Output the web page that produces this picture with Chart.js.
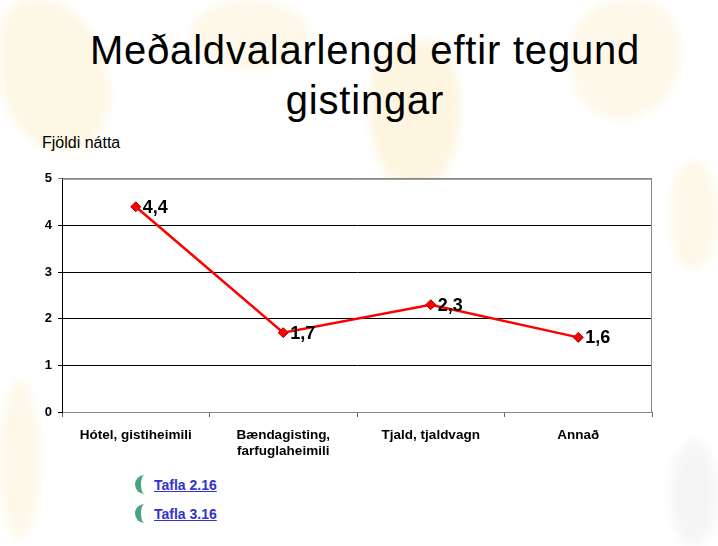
<!DOCTYPE html>
<html>
<head>
<meta charset="utf-8">
<script src="https://cdn.jsdelivr.net/npm/chart.js@4"></script>
<style>
    html, body { margin: 0; padding: 0; }
    body { width: 718px; height: 546px; position: relative; overflow: hidden; background: #fff; font-family: Arial, "Liberation Sans", sans-serif; }
    .blob { position: absolute; filter: blur(4px); }
    h1 { position: absolute; left: 0; top: 25px; width: 730px; margin: 0; text-align: center; font-weight: normal; font-size: 40px; letter-spacing: 0.8px; line-height: 50px; color: #000; }
    #yTitle { position: absolute; left: 42px; top: 134px; font-size: 16px; color: #000; }
    #chartBox { position: absolute; left: 20px; top: 165px; width: 638px; height: 300px; }
    .link { position: absolute; left: 135px; font-size: 14px; font-weight: bold; }
    .link a { color: #3333cc; text-decoration: underline; margin-left: 6px; }
    .moon { display: inline-block; width: 13px; height: 19px; border-radius: 13px 0 0 13px; border-left: 6px solid #4aa57e; box-sizing: border-box; vertical-align: -4px; }
</style>
</head>
<body>
<div class="blob" style="left:0;top:0;width:110px;height:150px;background:#fcf2d4;border-radius:30% 70% 40% 60%;opacity:.6"></div>
<div class="blob" style="left:190px;top:0;width:120px;height:70px;background:#fcf2d4;border-radius:50%;opacity:.5"></div>
<div class="blob" style="left:370px;top:40px;width:90px;height:150px;background:#fcefcc;border-radius:40% 40% 50% 50%;opacity:.6"></div>
<div class="blob" style="left:570px;top:0;width:110px;height:120px;background:#fcf2d4;border-radius:50% 40% 60% 50%;opacity:.5"></div>
<div class="blob" style="left:0;top:380px;width:40px;height:160px;background:#fcf2d4;border-radius:50%;opacity:.5"></div>
<div class="blob" style="left:670px;top:160px;width:48px;height:110px;background:#fcf2d4;border-radius:50%;opacity:.5"></div>
<div class="blob" style="left:670px;top:440px;width:48px;height:106px;background:#f0f0f0;border-radius:50%;opacity:.6"></div>

<h1>Meðaldvalarlengd eftir tegund<br>gistingar</h1>
<div id="yTitle">Fjöldi nátta</div>
<div id="chartBox"><canvas id="chart"></canvas></div>
<div class="link" style="top:475px"><span class="moon"></span><a href="#">Tafla 2.16</a></div>
<div class="link" style="top:504px"><span class="moon"></span><a href="#">Tafla 3.16</a></div>

<script>
const categories = ['Hótel, gistiheimili', ['Bændagisting,', 'farfuglaheimili'], 'Tjald, tjaldvagn', 'Annað'];
const nights = [4.4, 1.7, 2.3, 1.6];
const yTicks = [0, 1, 2, 3, 4, 5];

// white plot area, grey frame, value labels
const plotDecor = {
    id: 'plotDecor',
    beforeDraw(chart) {
        const a = chart.chartArea, c = chart.ctx;
        c.save();
        c.fillStyle = '#fff';
        c.fillRect(a.left, a.top, a.right - a.left, a.bottom - a.top);
        c.restore();
    },
    afterDatasetsDraw(chart) {
        const a = chart.chartArea, c = chart.ctx;
        c.save();
        c.strokeStyle = '#888';
        c.lineWidth = 1;
        c.beginPath();
        c.moveTo(a.left, a.top + 0.5);
        c.lineTo(a.right - 0.5, a.top + 0.5);
        c.lineTo(a.right - 0.5, a.bottom);
        c.stroke();
        const meta = chart.getDatasetMeta(0);
        c.fillStyle = '#000';
        c.font = 'bold 18px Arial, "Liberation Sans", sans-serif';
        c.textBaseline = 'middle';
        meta.data.forEach((pt, i) => {
            c.fillText(nights[i].toFixed(1).replace('.', ','), pt.x + 7, pt.y + 1);
        });
        c.restore();
    }
};

new Chart(document.getElementById('chart'), {
    type: 'line',
    data: {
        labels: categories,
        datasets: [{
            data: nights,
            borderColor: '#ff0000',
            borderWidth: 2.5,
            pointStyle: 'rectRot',
            pointRadius: 5,
            pointBackgroundColor: '#ff0000',
            pointBorderColor: '#aa0000',
            pointBorderWidth: 1,
            tension: 0
        }]
    },
    options: {
        responsive: true, maintainAspectRatio: false, animation: false,
        layout: { padding: { top: 8, right: 2 } },
        plugins: { legend: { display: false }, tooltip: { enabled: false } },
        scales: {
            x: {
                offset: true,
                afterFit: s => { s.height = 53; },
                grid: { offset: true, drawOnChartArea: false, color: '#666', tickLength: 5 },
                border: { color: '#888', width: 1 },
                ticks: { color: '#000', font: { size: 13.5, weight: 'bold', family: 'Arial, "Liberation Sans", sans-serif' }, maxRotation: 0, autoSkip: false, padding: 10 }
            },
            y: {
                min: 0, max: 5,
                afterFit: s => { s.width = 42; },
                afterBuildTicks: s => { s.ticks = yTicks.map(v => ({ value: v })); },
                grid: { color: ctx => ctx.tick && ctx.tick.value === 5 ? '#888' : '#000', tickLength: 4 },
                border: { color: '#000', width: 1 },
                ticks: { color: '#000', font: { size: 13, weight: 'bold', family: 'Arial, "Liberation Sans", sans-serif' }, padding: 6 }
            }
        }
    },
    plugins: [plotDecor]
});
</script>
</body>
</html>
